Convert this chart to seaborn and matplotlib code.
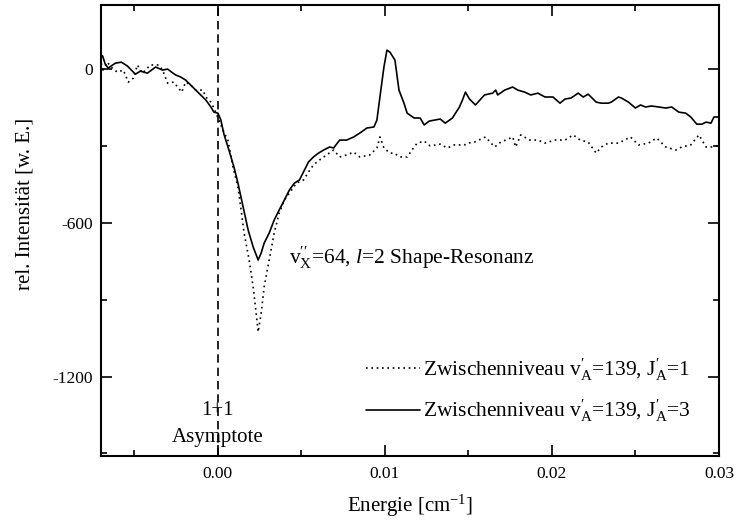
import numpy as np
import pandas as pd
import matplotlib
matplotlib.use("Agg")
import matplotlib.pyplot as plt
from matplotlib.ticker import MultipleLocator, FormatStrFormatter
import seaborn as sns

# Energy axis in units of 1e-3 cm^-1, intensities in arbitrary units
energy_j3 = [-7.0, -6.9, -6.75, -6.57, -6.39, -6.14, -5.78, -5.42, -5.18, -4.94,
             -4.64, -4.22, -3.73, -3.31, -3.01, -2.77, -2.53, -2.23, -1.93, -1.51,
             -1.14, -0.72, -0.42, -0.24, 0.00, 0.18, 0.36, 0.66, 0.96, 1.20,
             1.51, 1.81, 2.11, 2.41, 2.59, 2.77, 3.07, 3.37, 3.67, 3.98,
             4.28, 4.58, 4.88, 5.12, 5.42, 5.72, 6.02, 6.33, 6.69, 6.93,
             7.29, 7.71, 8.13, 8.49, 8.92, 9.34, 9.52, 9.70, 9.94, 10.12,
             10.30, 10.60, 10.84, 11.14, 11.33, 11.75, 12.11, 12.35, 12.65, 13.31,
             13.61, 14.04, 14.46, 14.64, 14.82, 15.06, 15.42, 15.96, 16.45, 16.63,
             16.75, 17.17, 17.65, 17.95, 18.37, 18.73, 19.16, 19.58, 20.06, 20.48,
             20.78, 21.14, 21.57, 21.87, 22.17, 22.65, 22.95, 23.37, 23.55, 23.98,
             24.16, 24.58, 25.00, 25.30, 25.60, 25.96, 26.39, 26.81, 27.17, 27.59,
             28.01, 28.31, 28.67, 28.98, 29.22, 29.52, 29.70, 30.00]
signal_j3 = [55, 51, 20, 4, 12, 23, 27, 12, -4, -20,
             -8, -16, 8, -4, 0, -12, -23, -31, -43, -70,
             -94, -121, -148, -168, -172, -199, -254, -316, -382, -445,
             -538, -628, -694, -745, -718, -679, -640, -589, -550, -511,
             -472, -445, -433, -402, -363, -343, -328, -316, -304, -308,
             -277, -277, -265, -250, -230, -226, -199, -109, 8, 74,
             66, 35, -82, -133, -172, -191, -191, -218, -203, -195,
             -211, -191, -148, -121, -90, -117, -140, -101, -94, -82,
             -101, -82, -70, -82, -90, -101, -94, -109, -109, -133,
             -117, -113, -94, -109, -98, -129, -133, -133, -129, -109,
             -113, -129, -152, -140, -148, -144, -148, -152, -148, -168,
             -172, -187, -215, -215, -207, -211, -187, -187]

energy_j1 = [-7.0, -6.93, -6.63, -6.33, -6.02, -5.66, -5.36, -5.06, -4.82, -4.52,
             -4.04, -3.55, -3.31, -3.01, -2.65, -2.41, -2.17, -1.93, -1.63, -1.33,
             -0.90, -0.72, -0.42, -0.24, 0.06, 0.36, 0.60, 0.90, 1.20, 1.39,
             1.57, 1.87, 2.11, 2.29, 2.41, 2.59, 2.77, 3.07, 3.37, 3.67,
             3.98, 4.28, 4.70, 5.12, 5.42, 5.72, 6.08, 6.51, 6.93, 7.29,
             7.71, 8.13, 8.49, 9.10, 9.52, 9.70, 9.94, 10.30, 10.54, 10.90,
             11.33, 11.75, 11.93, 12.35, 12.71, 13.31, 13.73, 14.16, 14.34, 14.76,
             14.94, 15.36, 16.02, 16.57, 16.93, 17.23, 17.65, 17.83, 18.13, 18.67,
             19.16, 19.58, 20.18, 20.78, 21.27, 21.69, 22.17, 22.65, 22.95, 23.37,
             23.98, 24.70, 25.18, 25.78, 26.27, 26.81, 27.41, 27.77, 28.31, 28.80,
             29.22, 29.70, 30.00]
signal_j1 = [43, -12, 27, 4, -12, -4, -51, -35, 16, -16,
             16, 16, -4, -55, -51, -70, -90, -51, -62, -82,
             -82, -109, -129, -152, -199, -246, -277, -382, -460, -550,
             -640, -745, -850, -952, -1026, -952, -850, -745, -640, -562,
             -511, -484, -445, -433, -402, -374, -355, -335, -316, -343,
             -335, -324, -343, -335, -308, -265, -308, -328, -328, -343,
             -343, -304, -289, -281, -300, -293, -308, -296, -296, -296,
             -289, -285, -265, -304, -285, -277, -265, -304, -257, -277,
             -277, -289, -277, -277, -257, -277, -285, -328, -304, -289,
             -289, -265, -296, -289, -269, -304, -316, -304, -296, -257,
             -304, -304, -296]

label_j1 = r"Zwischenniveau v$_\mathrm{A}^{\prime}$=139, J$_\mathrm{A}^{\prime}$=1"
label_j3 = r"Zwischenniveau v$_\mathrm{A}^{\prime}$=139, J$_\mathrm{A}^{\prime}$=3"

df = pd.concat([
    pd.DataFrame({"Energie": np.array(energy_j1) * 1e-3, "I": signal_j1, "Serie": label_j1}),
    pd.DataFrame({"Energie": np.array(energy_j3) * 1e-3, "I": signal_j3, "Serie": label_j3}),
], ignore_index=True)

sns.set_style("ticks")
plt.rcParams["font.family"] = ["Liberation Serif", "DejaVu Serif"]
plt.rcParams["mathtext.fontset"] = "custom"
plt.rcParams["mathtext.rm"] = "Liberation Serif"
plt.rcParams["mathtext.it"] = "Liberation Serif:italic"
plt.rcParams["mathtext.bf"] = "Liberation Serif:bold"
plt.rcParams["text.color"] = "black"
plt.rcParams["axes.labelcolor"] = "black"

fig = plt.figure(figsize=(7.36, 5.22), dpi=100)
ax = fig.add_axes([0.1372, 0.1264, 0.8397, 0.864])

sns.lineplot(data=df, x="Energie", y="I", hue="Serie", style="Serie",
             palette=["black", "black"], dashes=[(1, 2.2), ""],
             hue_order=[label_j1, label_j3], style_order=[label_j1, label_j3],
             linewidth=1.2, sort=False, estimator=None, ax=ax)

ax.axvline(0.0, color="black", linestyle=(0, (5, 3)), linewidth=1.2)

ax.set_xlim(-0.007, 0.030)
ax.set_ylim(-1510, 250)
ax.xaxis.set_major_locator(MultipleLocator(0.01))
ax.xaxis.set_minor_locator(MultipleLocator(0.005))
ax.yaxis.set_major_locator(MultipleLocator(600))
ax.yaxis.set_minor_locator(MultipleLocator(300))
ax.xaxis.set_major_formatter(FormatStrFormatter("%.2f"))
ax.yaxis.set_major_formatter(FormatStrFormatter("%d"))
ax.tick_params(which="both", direction="in", top=True, right=True,
               labelsize=12.5, width=1.2, color="black", labelcolor="black")
ax.tick_params(which="major", length=8)
ax.tick_params(which="minor", length=4)
ax.tick_params(axis="x", which="major", pad=7)
ax.tick_params(axis="y", which="major", pad=6)
for s in ax.spines.values():
    s.set_linewidth(1.5)
    s.set_color("black")

ax.set_xlabel(r"Energie [cm$^{\mathrm{-1}}$]", fontsize=15, labelpad=8)
ax.set_ylabel("rel. Intensität [w. E.]", fontsize=15)
ax.yaxis.set_label_coords(-0.108, 0.56)

ax.text(0.00423, -735, r"v$_\mathrm{X}^{\prime\prime}$=64, $l$=2 Shape-Resonanz",
        fontsize=15.5, va="center", ha="left")
ax.text(0.0, -1334, "1+1", fontsize=15, ha="center", va="center")
ax.text(0.0, -1437, "Asymptote", fontsize=15, ha="center", va="center")

leg = ax.legend(loc="lower right", bbox_to_anchor=(0.985, 0.027), frameon=False,
                fontsize=15.5, handlelength=2.5, handletextpad=0.15, labelspacing=0.7,
                borderpad=0.4)

fig.savefig("out.png", dpi=100)
